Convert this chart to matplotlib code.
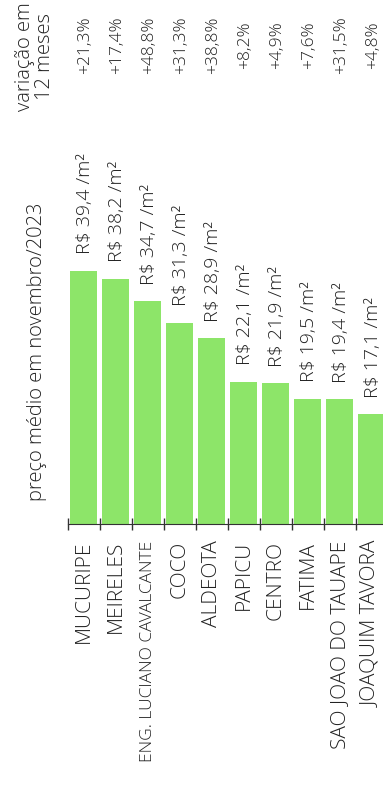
import matplotlib.pyplot as plt
import matplotlib.transforms as mtransforms

plt.rcParams['font.family'] = ['Open Sans', 'DejaVu Sans']
plt.rcParams['font.weight'] = 'light'

bairros = ["MUCURIPE", "MEIRELES", "ENG. LUCIANO CAVALCANTE", "COCO", "ALDEOTA",
           "PAPICU", "CENTRO", "FATIMA", "SAO JOAO DO TAUAPE", "JOAQUIM TAVORA"]
precos = [39.4, 38.2, 34.7, 31.3, 28.9, 22.1, 21.9, 19.5, 19.4, 17.1]
variacao = ["+21,3%", "+17,4%", "+48,8%", "+31,3%", "+38,8%",
            "+8,2%", "+4,9%", "+7,6%", "+31,5%", "+4,8%"]

W, H = 383, 785
cor_texto = '#222222'

fig = plt.figure(figsize=(W / 100, H / 100), dpi=100)
# eixo: fundo em y=524px, slots de 32px comecando em x=67.7px
ax = fig.add_axes([67.7 / W, (H - 524) / H, 320 / W, 524 / H])
x = list(range(len(bairros)))
ax.bar(x, precos, width=0.84, color='#8de569')
ax.set_xlim(-0.5, len(bairros) - 0.5)
ax.set_ylim(0, 524 / 6.42)

for s in ['top', 'right', 'left']:
    ax.spines[s].set_visible(False)
ax.spines['bottom'].set_color('#333333')
ax.set_yticks([])

# marcas nas divisas, nomes no centro das barras
ax.set_xticks([i - 0.5 for i in x])
ax.set_xticklabels([])
ax.tick_params(axis='x', which='major', direction='inout', length=8.5, width=1, color='#333333')
ax.set_xticks(x, minor=True)
ax.set_xticklabels(bairros, minor=True, rotation=90, va='top', ha='center',
                   fontsize=15, color=cor_texto)
ax.tick_params(axis='x', which='minor', length=0, pad=12)
for lbl in ax.get_xticklabels(minor=True):
    if lbl.get_text().startswith('ENG.'):
        lbl.set_fontsize(12.5)

# valores sobre as barras
for i, p in enumerate(precos):
    txt = 'R$ ' + f'{p:.1f}'.replace('.', ',') + ' /m²'
    ax.annotate(txt, (i, p), xytext=(1, 12), textcoords='offset points',
                rotation=90, ha='center', va='bottom', fontsize=14, color=cor_texto)

# variacao em 12 meses no topo
trans = mtransforms.blended_transform_factory(ax.transData, fig.transFigure)
for i, v in enumerate(variacao):
    ax.text(i + 0.05, 1 - 45 / H, v, transform=trans, rotation=90,
            ha='center', va='center', fontsize=12.5, color=cor_texto, clip_on=False)

fig.text(35 / W, 1 - 2 / H, 'variação em\n12 meses', rotation=90, ha='center', va='top',
         fontsize=14.5, color=cor_texto, multialignment='center', linespacing=0.95)
fig.text(37 / W, 1 - 352 / H, 'preço médio em novembro/2023', rotation=90,
         ha='center', va='center', fontsize=14.5, color=cor_texto)

fig.savefig('out.png', dpi=100)
